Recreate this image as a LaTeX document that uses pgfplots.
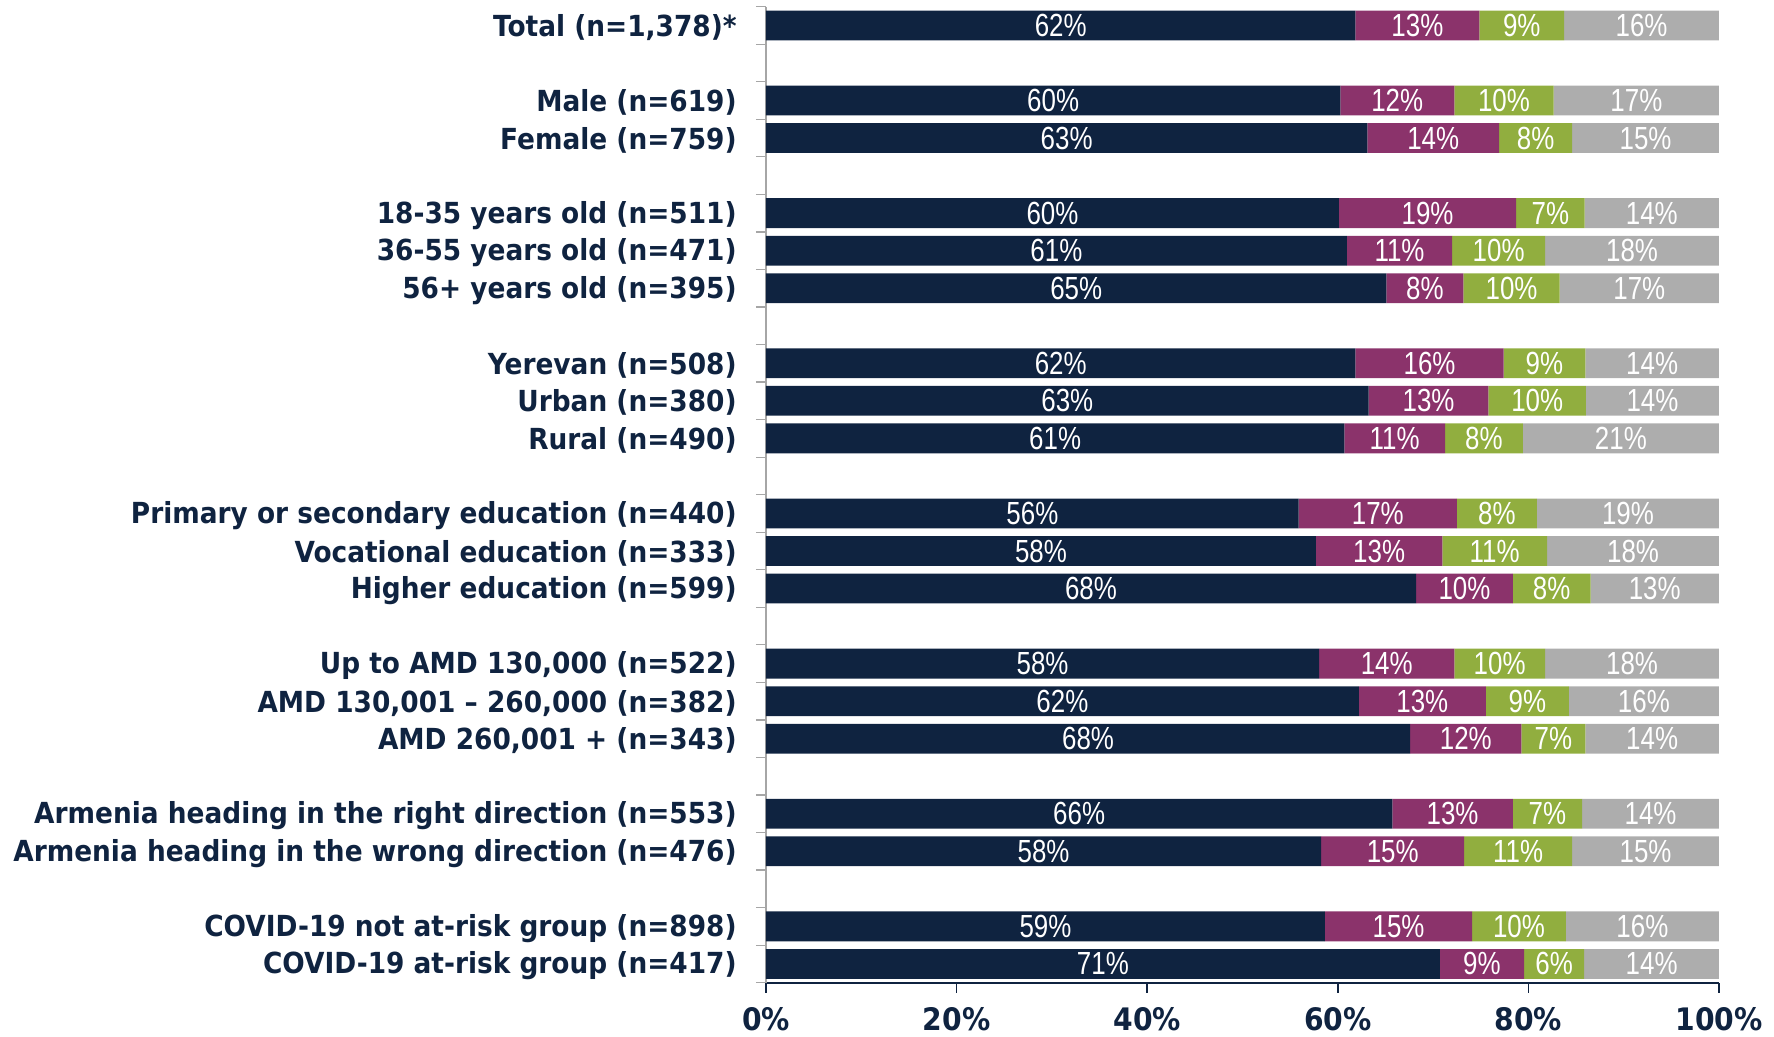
\documentclass[border=0pt]{standalone}
\usepackage{pgfplots}
\pgfplotsset{compat=1.18}
\usepackage{pgfplotstable}
\usepackage{fontspec}
\setmainfont{DejaVu Sans}
\newfontfamily\labfont{DejaVu Sans}[FakeStretch=0.91]
\newfontfamily\valfont{Liberation Sans}[FakeStretch=0.81]

\definecolor{cNavy}{HTML}{0F2340}
\definecolor{cPlum}{HTML}{8B336B}
\definecolor{cGreen}{HTML}{91AE3F}
\definecolor{cGrey}{HTML}{ADADAD}
\definecolor{cAxis}{HTML}{A6A6A6}

% pos = row slot counted from the bottom; shares in percent
\pgfplotstableread{
pos dark  purple green grey
25  61.85 13.00  8.90  16.25
23  60.26 11.96  10.44 17.34
22  63.10 13.82  7.67  15.41
20  60.12 18.59  7.19  14.10
19  60.95 11.06  9.74  18.25
18  65.10 8.09   10.09 16.72
16  61.85 15.55  8.57  14.03
15  63.23 12.58  10.23 13.96
14  60.68 10.57  8.16  20.59
12  55.90 16.60  8.40  19.10
11  57.71 13.26  10.99 18.04
10  68.21 10.16  8.15  13.48
8   58.05 14.17  9.53  18.25
7   62.20 13.34  8.70  15.76
6   67.59 11.68  6.70  14.03
4   65.72 12.65  7.26  14.37
3   58.26 15.00  11.33 15.41
1   58.65 15.45  9.82  16.08
0   70.71 8.83   6.32  14.14
}\results

\pgfplotsset{
  common frame/.style={
    scale only axis,
    width=476.5pt, height=488pt,
    xmin=0, xmax=100,
    ymin=-0.5, ymax=25.5,
  },
}

\begin{document}
\begin{tikzpicture}
\begin{axis}[
  common frame,
  name=ax,
  xbar stacked,
  bar width=14.9pt,
  axis x line*=bottom,
  axis y line*=left,
  x axis line style={cNavy, line width=1pt, -},
  y axis line style={cAxis, line width=0.6pt, -},
  tick align=outside,
  major tick length=5pt,
  xtick={0,20,40,60,80,100},
  xticklabels={0\%,20\%,40\%,60\%,80\%,100\%},
  xtick style={cNavy, line width=0.8pt},
  xticklabel style={font=\labfont\bfseries\fontsize{15.5}{18}\selectfont,
    text=cNavy, inner sep=0pt, yshift=-7pt},
  ytick={-0.5,0.5,...,25.5},
  yticklabels={},
  ytick style={cAxis, line width=0.6pt},
  yticklabel style={font=\labfont\bfseries\fontsize{14.5}{17}\selectfont,
    text=cNavy, inner sep=0pt, xshift=-14.5pt, yshift=-1pt},
  extra y ticks={25,23,22,20,19,18,16,15,14,12,11,10,8,7,6,4,3,1,0},
  extra y tick labels={
    {Total (n=1,378)*},
    {Male (n=619)},
    {Female (n=759)},
    {18-35 years old (n=511)},
    {36-55 years old (n=471)},
    {56+ years old (n=395)},
    {Yerevan (n=508)},
    {Urban (n=380)},
    {Rural (n=490)},
    {Primary or secondary education (n=440)},
    {Vocational education (n=333)},
    {Higher education (n=599)},
    {Up to AMD 130,000 (n=522)},
    {AMD 130,001 – 260,000 (n=382)},
    {AMD 260,001 + (n=343)},
    {Armenia heading in the right direction (n=553)},
    {Armenia heading in the wrong direction (n=476)},
    {COVID-19 not at-risk group (n=898)},
    {COVID-19 at-risk group (n=417)}},
  extra y tick style={major tick length=0pt},
]
\addplot[fill=cNavy, draw=none]  table[x=dark,   y=pos] {\results};
\addplot[fill=cPlum, draw=none]  table[x=purple, y=pos] {\results};
\addplot[fill=cGreen, draw=none] table[x=green,  y=pos] {\results};
\addplot[fill=cGrey, draw=none]  table[x=grey,   y=pos] {\results};
\end{axis}

% value labels, centred on each segment
\begin{axis}[
  common frame,
  axis lines=none,
  point meta=explicit,
  /pgf/number format/assume math mode=true,
  nodes near coords={\pgfmathprintnumber[fixed,precision=0]{\pgfplotspointmeta}\%},
  every node near coord/.append style={font=\valfont\fontsize{16}{18}\selectfont,
    text=white, anchor=center, inner sep=0pt},
]
\addplot[draw=none, mark=none] table[x expr=\thisrow{dark}/2, y=pos, meta=dark] {\results};
\addplot[draw=none, mark=none] table[x expr=\thisrow{dark}+\thisrow{purple}/2, y=pos, meta=purple] {\results};
\addplot[draw=none, mark=none] table[x expr=\thisrow{dark}+\thisrow{purple}+\thisrow{green}/2, y=pos, meta=green] {\results};
\addplot[draw=none, mark=none] table[x expr=\thisrow{dark}+\thisrow{purple}+\thisrow{green}+\thisrow{grey}/2, y=pos, meta=grey] {\results};
\end{axis}

\pgfresetboundingbox
\path[use as bounding box] ([xshift=-383pt,yshift=-27pt]ax.south west)
  rectangle ([xshift=27.5pt,yshift=3.35pt]ax.north east);
\end{tikzpicture}
\end{document}
